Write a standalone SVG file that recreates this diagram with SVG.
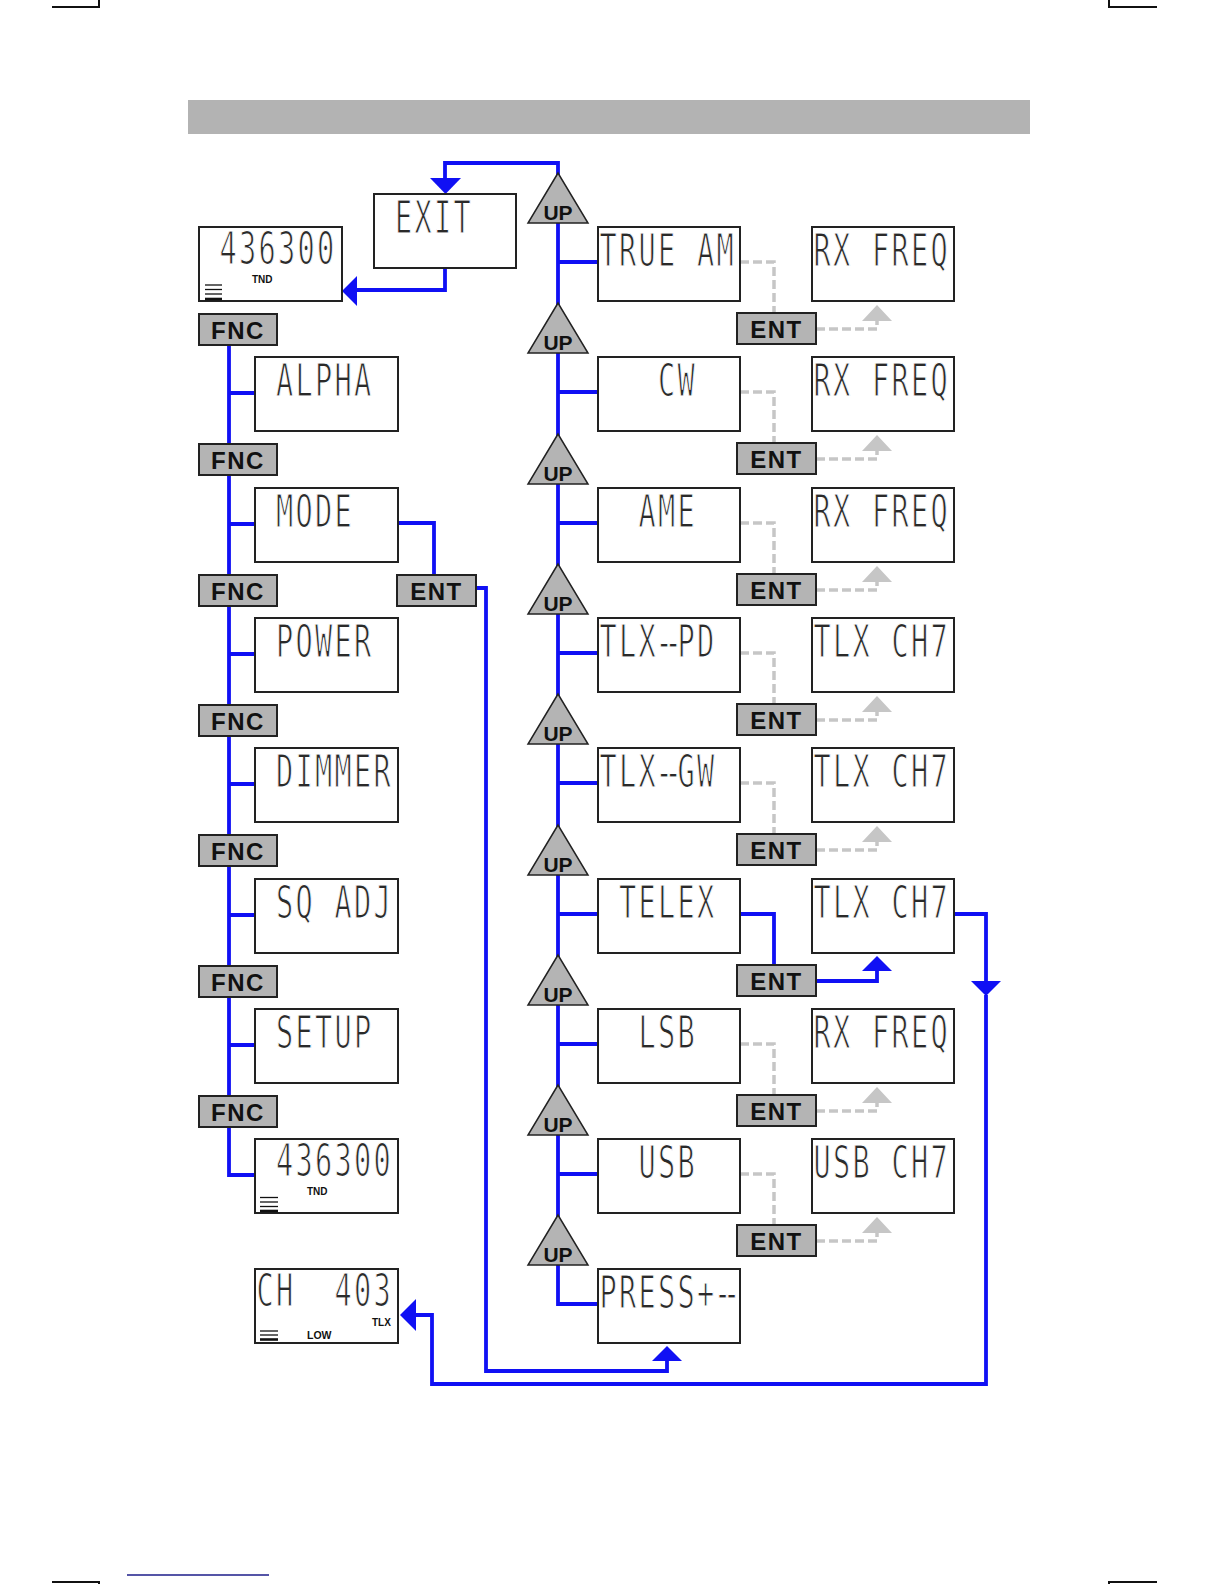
<svg xmlns="http://www.w3.org/2000/svg" width="1224" height="1584" viewBox="0 0 1224 1584">
<style>
.box{fill:#fff;stroke:#222;stroke-width:2}
.key{fill:#b4b4b4;stroke:#222;stroke-width:2}
.keyt{font-family:"Liberation Sans",Arial,sans-serif;font-weight:bold;font-size:24px;letter-spacing:1.5px;text-anchor:middle;fill:#111}
.upt{font-family:"Liberation Sans",Arial,sans-serif;font-weight:bold;font-size:21px;text-anchor:middle;fill:#111}
.lcd{font-family:"DejaVu Sans Mono",monospace;font-size:44px;letter-spacing:3.5px;fill:#2a2a2a;stroke:#fff;stroke-width:1.2}
.sm{font-family:"Liberation Sans",Arial,sans-serif;font-weight:bold;font-size:10px;fill:#111}
.bl{fill:none;stroke:#1010f4;stroke-width:3.8}
.gr{fill:none;stroke:#c6c6c6;stroke-width:3.5;stroke-dasharray:9 4}
.ba{fill:#1010f4}
.ga{fill:#c6c6c6}
.bar{stroke:#111;stroke-width:1.3}
.barb{stroke:#111;stroke-width:2.6}
.tri{fill:#b4b4b4;stroke:#222;stroke-width:1.5}
.mark{fill:none;stroke:#111;stroke-width:2}
</style>

<g id="page">
  <path class="mark" d="M52,7 H99 V0"/>
  <path class="mark" d="M1109,0 V7 H1157"/>
  <path class="mark" d="M52,1582 H99 V1584"/>
  <path class="mark" d="M1109,1584 V1582 H1157"/>
  <line x1="127" y1="1575" x2="269" y2="1575" stroke="#1c1c8a" stroke-width="1.5"/>
  <rect x="188" y="100" width="842" height="34" fill="#b3b3b3"/>
</g>

<g id="connectors">
  <path class="bl" d="M445,181 V163 H558 V1304 H598"/>
  <polygon class="ba" points="430,178 461,178 445.5,194"/>
  <path class="bl" d="M445,268 V290 H356"/>
  <polygon class="ba" points="342,291 357,276 357,306"/>
  <path class="bl" d="M558,262 H598 M558,392 H598 M558,523 H598 M558,653 H598 M558,783 H598 M558,914 H598 M558,1044 H598 M558,1174 H598"/>
  <path class="bl" d="M229,345 V1175 H255"/>
  <path class="bl" d="M229,393 H255 M229,524 H255 M229,654 H255 M229,784 H255 M229,915 H255 M229,1045 H255"/>
  <path class="bl" d="M398,523 H434 V575"/>
  <path class="bl" d="M476,588 H486 V1371 H667 V1360"/>
  <polygon class="ba" points="652,1361 682,1361 667,1346"/>
  <path class="bl" d="M740,914 H774 V965"/>
  <path class="bl" d="M816,981 H877 V970"/>
  <polygon class="ba" points="862,971 892,971 877,956"/>
  <path class="bl" d="M954,914 H986 V982"/>
  <polygon class="ba" points="971,981 1001,981 986,996"/>
  <path class="bl" d="M986,995 V1384 H432 V1315 H415"/>
  <polygon class="ba" points="400,1315 416,1299 416,1331"/>
  <path class="gr" d="M740,262 H774 V313 M816,329 H877 V321"/>
  <polygon class="ga" points="862,321 892,321 877,305"/>
  <path class="gr" d="M740,392 H774 V443 M816,459 H877 V451"/>
  <polygon class="ga" points="862,451 892,451 877,435"/>
  <path class="gr" d="M740,523 H774 V574 M816,590 H877 V582"/>
  <polygon class="ga" points="862,582 892,582 877,566"/>
  <path class="gr" d="M740,653 H774 V704 M816,720 H877 V712"/>
  <polygon class="ga" points="862,712 892,712 877,696"/>
  <path class="gr" d="M740,783 H774 V834 M816,850 H877 V842"/>
  <polygon class="ga" points="862,842 892,842 877,826"/>
  <path class="gr" d="M740,1044 H774 V1095 M816,1111 H877 V1103"/>
  <polygon class="ga" points="862,1103 892,1103 877,1087"/>
  <path class="gr" d="M740,1174 H774 V1225 M816,1241 H877 V1233"/>
  <polygon class="ga" points="862,1233 892,1233 877,1217"/>
</g>

<g id="disp-top">
  <rect class="box" x="199" y="227" width="143" height="74"/>
  <text class="lcd" transform="translate(219.5,264) scale(0.65,1)">436300</text>
  <text class="sm" x="252" y="283">TND</text>
  <line class="bar" x1="205" y1="285" x2="222" y2="285"/>
  <line class="bar" x1="205" y1="289.5" x2="222" y2="289.5"/>
  <line class="bar" x1="205" y1="294" x2="222" y2="294"/>
  <line class="barb" x1="205" y1="299" x2="222" y2="299"/>
</g>
<g id="exit">
  <rect class="box" x="374" y="194" width="142" height="74"/>
  <text class="lcd" transform="translate(395,233) scale(0.65,1)">EXIT</text>
</g>
<g id="fnc1"><rect class="key" x="199" y="314" width="78" height="31"/><text class="keyt" x="238" y="339">FNC</text></g>
<g id="alpha"><rect class="box" x="255" y="357" width="143" height="74"/><text class="lcd" transform="translate(276,396) scale(0.65,1)">ALPHA</text></g>
<g id="fnc2"><rect class="key" x="199" y="444" width="78" height="31"/><text class="keyt" x="238" y="469">FNC</text></g>
<g id="mode"><rect class="box" x="255" y="488" width="143" height="74"/><text class="lcd" transform="translate(276,527) scale(0.65,1)">MODE</text></g>
<g id="fnc3"><rect class="key" x="199" y="575" width="78" height="31"/><text class="keyt" x="238" y="600">FNC</text></g>
<g id="ent-mode"><rect class="key" x="397" y="575" width="79" height="31"/><text class="keyt" x="436.5" y="600">ENT</text></g>
<g id="power"><rect class="box" x="255" y="618" width="143" height="74"/><text class="lcd" transform="translate(276,657) scale(0.65,1)">POWER</text></g>
<g id="fnc4"><rect class="key" x="199" y="705" width="78" height="31"/><text class="keyt" x="238" y="730">FNC</text></g>
<g id="dimmer"><rect class="box" x="255" y="748" width="143" height="74"/><text class="lcd" transform="translate(276,787) scale(0.65,1)">DIMMER</text></g>
<g id="fnc5"><rect class="key" x="199" y="835" width="78" height="31"/><text class="keyt" x="238" y="860">FNC</text></g>
<g id="sqadj"><rect class="box" x="255" y="879" width="143" height="74"/><text class="lcd" transform="translate(276,918) scale(0.65,1)">SQ ADJ</text></g>
<g id="fnc6"><rect class="key" x="199" y="966" width="78" height="31"/><text class="keyt" x="238" y="991">FNC</text></g>
<g id="setup"><rect class="box" x="255" y="1009" width="143" height="74"/><text class="lcd" transform="translate(276,1048) scale(0.65,1)">SETUP</text></g>
<g id="fnc7"><rect class="key" x="199" y="1096" width="78" height="31"/><text class="keyt" x="238" y="1121">FNC</text></g>
<g id="disp-bottom">
  <rect class="box" x="255" y="1139" width="143" height="74"/>
  <text class="lcd" transform="translate(276,1176) scale(0.65,1)">436300</text>
  <text class="sm" x="307" y="1195">TND</text>
  <line class="bar" x1="260" y1="1197.5" x2="278" y2="1197.5"/>
  <line class="bar" x1="260" y1="1202" x2="278" y2="1202"/>
  <line class="bar" x1="260" y1="1206.5" x2="278" y2="1206.5"/>
  <line class="barb" x1="260" y1="1211" x2="278" y2="1211"/>
</g>
<g id="ch403">
  <rect class="box" x="255" y="1269" width="143" height="74"/>
  <text class="lcd" transform="translate(256.5,1306) scale(0.65,1)">CH</text>
  <text class="lcd" transform="translate(334.5,1306) scale(0.65,1)">403</text>
  <text class="sm" x="372" y="1326">TLX</text>
  <text class="sm" x="307" y="1339" style="font-size:10.5px">LOW</text>
  <line class="bar" x1="260" y1="1331" x2="278" y2="1331"/>
  <line class="bar" x1="260" y1="1335" x2="278" y2="1335"/>
  <line class="barb" x1="260" y1="1339.5" x2="278" y2="1339.5"/>
</g>

<g id="up0"><polygon class="tri" points="558,173 528,223 588,223"/><text class="upt" x="558" y="220">UP</text></g>
<g id="up1"><polygon class="tri" points="558,303 528,353 588,353"/><text class="upt" x="558" y="350">UP</text></g>
<g id="up2"><polygon class="tri" points="558,434 528,484 588,484"/><text class="upt" x="558" y="481">UP</text></g>
<g id="up3"><polygon class="tri" points="558,564 528,614 588,614"/><text class="upt" x="558" y="611">UP</text></g>
<g id="up4"><polygon class="tri" points="558,694 528,744 588,744"/><text class="upt" x="558" y="741">UP</text></g>
<g id="up5"><polygon class="tri" points="558,825 528,875 588,875"/><text class="upt" x="558" y="872">UP</text></g>
<g id="up6"><polygon class="tri" points="558,955 528,1005 588,1005"/><text class="upt" x="558" y="1002">UP</text></g>
<g id="up7"><polygon class="tri" points="558,1085 528,1135 588,1135"/><text class="upt" x="558" y="1132">UP</text></g>
<g id="up8"><polygon class="tri" points="558,1215 528,1265 588,1265"/><text class="upt" x="558" y="1262">UP</text></g>

<g id="m-trueam"><rect class="box" x="598" y="227" width="142" height="74"/><text class="lcd" transform="translate(599.5,266) scale(0.65,1)">TRUE AM</text></g>
<g id="m-cw"><rect class="box" x="598" y="357" width="142" height="74"/><text class="lcd" transform="translate(658,396) scale(0.65,1)">CW</text></g>
<g id="m-ame"><rect class="box" x="598" y="488" width="142" height="74"/><text class="lcd" transform="translate(638.5,527) scale(0.65,1)">AME</text></g>
<g id="m-tlxpd"><rect class="box" x="598" y="618" width="142" height="74"/><text class="lcd" transform="translate(599.5,657) scale(0.65,1)" x="0 30 60 86 100 120 150">TLX--PD</text></g>
<g id="m-tlxgw"><rect class="box" x="598" y="748" width="142" height="74"/><text class="lcd" transform="translate(599.5,787) scale(0.65,1)" x="0 30 60 86 100 120 150">TLX--GW</text></g>
<g id="m-telex"><rect class="box" x="598" y="879" width="142" height="74"/><text class="lcd" transform="translate(619,918) scale(0.65,1)">TELEX</text></g>
<g id="m-lsb"><rect class="box" x="598" y="1009" width="142" height="74"/><text class="lcd" transform="translate(638.5,1048) scale(0.65,1)">LSB</text></g>
<g id="m-usb"><rect class="box" x="598" y="1139" width="142" height="74"/><text class="lcd" transform="translate(638.5,1178) scale(0.65,1)">USB</text></g>
<g id="m-press"><rect class="box" x="598" y="1269" width="142" height="74"/><text class="lcd" transform="translate(599.5,1308) scale(0.65,1)" x="0 30 60 90 120 150 176 190">PRESS+--</text></g>

<g id="ent0"><rect class="key" x="737" y="313" width="79" height="31"/><text class="keyt" x="776.5" y="338">ENT</text></g>
<g id="ent1"><rect class="key" x="737" y="443" width="79" height="31"/><text class="keyt" x="776.5" y="468">ENT</text></g>
<g id="ent2"><rect class="key" x="737" y="574" width="79" height="31"/><text class="keyt" x="776.5" y="599">ENT</text></g>
<g id="ent3"><rect class="key" x="737" y="704" width="79" height="31"/><text class="keyt" x="776.5" y="729">ENT</text></g>
<g id="ent4"><rect class="key" x="737" y="834" width="79" height="31"/><text class="keyt" x="776.5" y="859">ENT</text></g>
<g id="ent5"><rect class="key" x="737" y="965" width="79" height="31"/><text class="keyt" x="776.5" y="990">ENT</text></g>
<g id="ent6"><rect class="key" x="737" y="1095" width="79" height="31"/><text class="keyt" x="776.5" y="1120">ENT</text></g>
<g id="ent7"><rect class="key" x="737" y="1225" width="79" height="31"/><text class="keyt" x="776.5" y="1250">ENT</text></g>

<g id="r0"><rect class="box" x="812" y="227" width="142" height="74"/><text class="lcd" transform="translate(813.5,266) scale(0.65,1)">RX FREQ</text></g>
<g id="r1"><rect class="box" x="812" y="357" width="142" height="74"/><text class="lcd" transform="translate(813.5,396) scale(0.65,1)">RX FREQ</text></g>
<g id="r2"><rect class="box" x="812" y="488" width="142" height="74"/><text class="lcd" transform="translate(813.5,527) scale(0.65,1)">RX FREQ</text></g>
<g id="r3"><rect class="box" x="812" y="618" width="142" height="74"/><text class="lcd" transform="translate(813.5,657) scale(0.65,1)">TLX CH7</text></g>
<g id="r4"><rect class="box" x="812" y="748" width="142" height="74"/><text class="lcd" transform="translate(813.5,787) scale(0.65,1)">TLX CH7</text></g>
<g id="r5"><rect class="box" x="812" y="879" width="142" height="74"/><text class="lcd" transform="translate(813.5,918) scale(0.65,1)">TLX CH7</text></g>
<g id="r6"><rect class="box" x="812" y="1009" width="142" height="74"/><text class="lcd" transform="translate(813.5,1048) scale(0.65,1)">RX FREQ</text></g>
<g id="r7"><rect class="box" x="812" y="1139" width="142" height="74"/><text class="lcd" transform="translate(813.5,1178) scale(0.65,1)">USB CH7</text></g>
</svg>
